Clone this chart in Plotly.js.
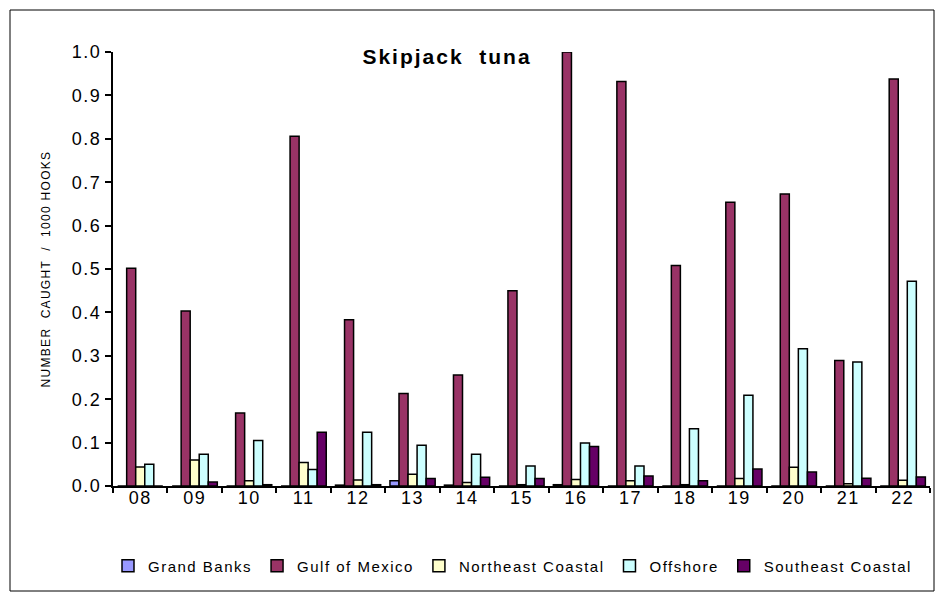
<!DOCTYPE html>
<html>
<head>
<meta charset="utf-8">
<script src="https://cdn.plot.ly/plotly-3.0.1.min.js"></script>
<style>
  html, body { margin: 0; padding: 0; background: #ffffff; }
  #chart { width: 942px; height: 597px; }
</style>
</head>
<body>
<div id="chart"></div>
<script>
const years = ["08", "09", "10", "11", "12", "13", "14", "15", "16", "17", "18", "19", "20", "21", "22"];
const grandBanks       = [0.000, 0.000, 0.000, 0.000, 0.002, 0.012, 0.002, 0.000, 0.003, 0.000, 0.000, 0.000, 0.000, 0.000, 0.000];
const gulfOfMexico     = [0.502, 0.403, 0.168, 0.806, 0.383, 0.213, 0.256, 0.450, 1.000, 0.932, 0.508, 0.654, 0.673, 0.289, 0.938];
const northeastCoastal = [0.044, 0.060, 0.012, 0.054, 0.014, 0.027, 0.008, 0.003, 0.015, 0.012, 0.003, 0.017, 0.043, 0.005, 0.013];
const offshore         = [0.050, 0.073, 0.105, 0.038, 0.124, 0.094, 0.073, 0.046, 0.099, 0.046, 0.132, 0.209, 0.316, 0.286, 0.472];
const southeastCoastal = [0.000, 0.009, 0.003, 0.124, 0.003, 0.017, 0.020, 0.017, 0.091, 0.023, 0.012, 0.039, 0.032, 0.018, 0.021];

const seriesNames  = ["Grand Banks", "Gulf of Mexico", "Northeast Coastal", "Offshore", "Southeast Coastal"];
const seriesValues = [grandBanks, gulfOfMexico, northeastCoastal, offshore, southeastCoastal];
const seriesColors = ["#9999ff", "#993366", "#ffffcc", "#ccffff", "#660066"];

const yTickValues = [0, 0.1, 0.2, 0.3, 0.4, 0.5, 0.6, 0.7, 0.8, 0.9, 1.0];
const yTickLabels = ["0.0", "0.1", "0.2", "0.3", "0.4", "0.5", "0.6", "0.7", "0.8", "0.9", "1.0"];

const chartTitle = "Skipjack  tuna";
const yTitle = "NUMBER  CAUGHT  /  1000 HOOKS";

const FONT = "Liberation Sans, Arial, sans-serif";
const spaced = (s, ls) => '<span style="letter-spacing:' + ls + 'px">' + s + '</span>';

const traces = seriesNames.map((name, i) => ({
  type: "bar",
  name: spaced(name, 1.5),
  x: years,
  y: seriesValues[i],
  marker: { color: seriesColors[i], line: { color: "#000000", width: 1.5 } },
  hoverinfo: "x+y"
}));

const L = 113, R = 930, T = 52, B = 486;
const W = 942, H = 597;
const pw = R - L, ph = B - T;

const layout = {
  width: W,
  height: H,
  paper_bgcolor: "#ffffff",
  plot_bgcolor: "#ffffff",
  margin: { l: L, r: W - R, t: T, b: H - B, pad: 0 },
  barmode: "group",
  bargap: 0.17,
  bargroupgap: 0,
  font: { family: FONT, color: "#000000", size: 16 },
  title: {
    text: "<b>" + spaced(chartTitle, 2) + "</b>",
    font: { family: FONT, size: 21, color: "#000000" },
    xref: "paper", x: (447 - L) / pw, xanchor: "center",
    yref: "container", y: 1 - 57 / H, yanchor: "middle"
  },
  xaxis: {
    type: "category",
    tickmode: "array",
    tickvals: years,
    ticktext: years.map(s => spaced(s, 1.5)),
    showline: true, linecolor: "#000000", linewidth: 2,
    ticks: "outside", ticklen: 5, tickwidth: 2, tickcolor: "#000000",
    tickson: "boundaries",
    ticklabelstandoff: -6,
    showgrid: false, zeroline: false,
    tickfont: { family: FONT, size: 18, color: "#000000" },
    automargin: false
  },
  yaxis: {
    range: [0, 1.0],
    tickmode: "array",
    tickvals: yTickValues,
    ticktext: yTickLabels.map(s => spaced(s, 1.5)),
    showline: true, linecolor: "#000000", linewidth: 2,
    ticks: "outside", ticklen: 6, tickwidth: 2, tickcolor: "#000000",
    showgrid: false, zeroline: false,
    tickfont: { family: FONT, size: 18, color: "#000000" },
    title: {
      text: spaced(yTitle, 1.3),
      font: { family: FONT, size: 12, color: "#000000" },
      standoff: 19
    },
    automargin: false
  },
  legend: {
    orientation: "h",
    x: (108 - L) / pw, xanchor: "left",
    y: -(566 - B) / ph, yanchor: "middle",
    font: { family: FONT, size: 15, color: "#000000" },
    itemclick: false, itemdoubleclick: false,
    bgcolor: "rgba(0,0,0,0)"
  },
  shapes: [{
    type: "rect", xref: "paper", yref: "paper",
    x0: (10 - L) / pw, x1: (934 - L) / pw,
    y0: (B - 591) / ph, y1: (B - 10) / ph,
    line: { color: "#000000", width: 1 }, fillcolor: "rgba(0,0,0,0)", layer: "below"
  }],
  showlegend: true
};

Plotly.newPlot("chart", traces, layout, { displayModeBar: false });
</script>
</body>
</html>
